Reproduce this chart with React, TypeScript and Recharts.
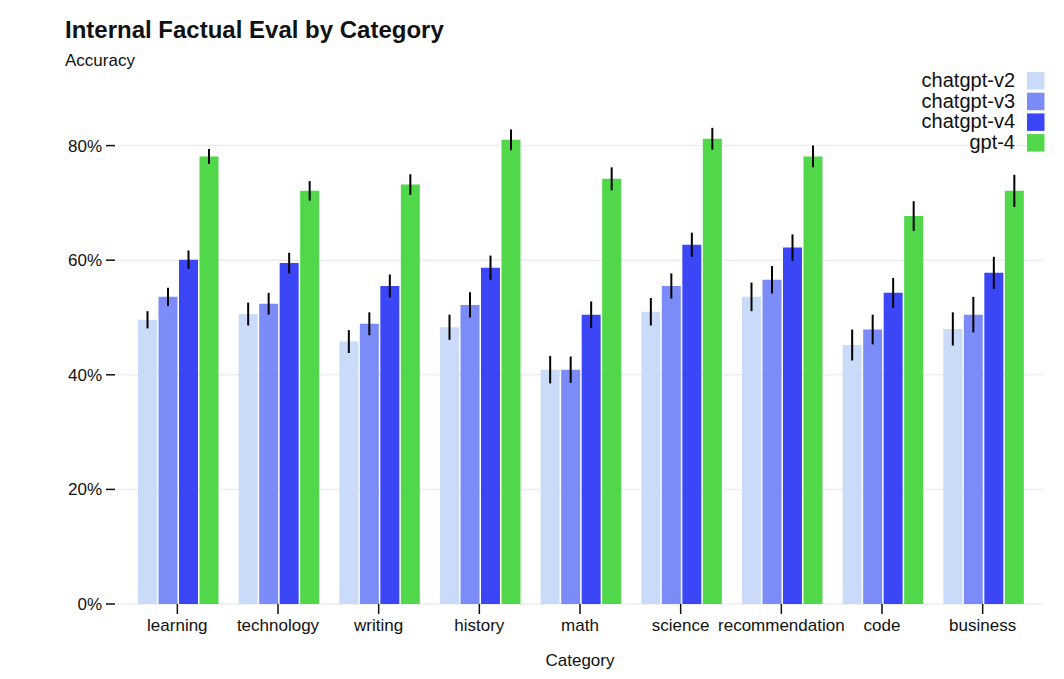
import React from 'react';
import { ComposedChart, Bar, XAxis, YAxis, CartesianGrid, ErrorBar } from 'recharts';

const categories = ['learning', 'technology', 'writing', 'history', 'math', 'science', 'recommendation', 'code', 'business'];
const seriesNames = ['chatgpt-v2', 'chatgpt-v3', 'chatgpt-v4', 'gpt-4'];
const seriesColors = ['#c9dbf9', '#7b8cf8', '#3b46f7', '#51d84a'];

const v2 = [49.6, 50.6, 45.8, 48.3, 40.9, 51.0, 53.6, 45.2, 48.0];
const v2Err = [1.5, 2.0, 2.0, 2.2, 2.4, 2.4, 2.5, 2.7, 2.9];
const v3 = [53.6, 52.4, 48.9, 52.2, 40.9, 55.5, 56.6, 47.9, 50.5];
const v3Err = [1.6, 1.9, 2.0, 2.2, 2.3, 2.2, 2.4, 2.6, 3.1];
const v4 = [60.1, 59.5, 55.5, 58.7, 50.5, 62.7, 62.2, 54.3, 57.8];
const v4Err = [1.6, 1.8, 2.0, 2.1, 2.3, 2.1, 2.3, 2.6, 2.8];
const gpt4 = [78.1, 72.1, 73.2, 81.0, 74.2, 81.2, 78.1, 67.7, 72.1];
const gpt4Err = [1.3, 1.7, 1.8, 1.8, 2.0, 1.9, 1.9, 2.6, 2.8];

const yTicks = [0, 20, 40, 60, 80];

const title = 'Internal Factual Eval by Category';
const yLabel = 'Accuracy';
const xLabel = 'Category';

const data = categories.map((c, i) => ({
  category: c,
  v2: v2[i], v2e: v2Err[i],
  v3: v3[i], v3e: v3Err[i],
  v4: v4[i], v4e: v4Err[i],
  g4: gpt4[i], g4e: gpt4Err[i],
}));

const keys = [['v2', 'v2e'], ['v3', 'v3e'], ['v4', 'v4e'], ['g4', 'g4e']];

const FONT = '"Liberation Sans", Arial, Helvetica, sans-serif';
const W = 1056;
const H = 671;

const YTick = (props: any) => {
  const { x, y, payload } = props;
  return (
    <g>
      <text x={x - 15} y={y} dy="0.35em" textAnchor="end" fontSize={17} fontFamily={FONT} fill="#111">
        {`${payload.value}%`}
      </text>
      <line x1={x - 11} x2={x - 2} y1={y} y2={y} stroke="#111" strokeWidth={1.5} />
    </g>
  );
};

const XTick = (props: any) => {
  const { x, y, payload } = props;
  return (
    <g>
      <line x1={x} x2={x} y1={y} y2={y + 10} stroke="#111" strokeWidth={1.5} />
      <text x={x} y={y + 27} textAnchor="middle" fontSize={17} fontFamily={FONT} fill="#111">
        {payload.value}
      </text>
    </g>
  );
};

export default function App() {
  return (
    <div style={{ position: 'relative', width: W, height: H }}>
      <ComposedChart
        width={W}
        height={H}
        data={data}
        margin={{ top: 23, right: 21, left: 0, bottom: 0 }}
        barCategoryGap={11}
        barGap={1.5}
      >
        <CartesianGrid
          vertical={false}
          stroke="#ededed"
          strokeWidth={1.5}
          horizontalValues={yTicks}
        />
        <XAxis
          dataKey="category"
          height={75}
          padding={{ left: 10, right: 10 }}
          axisLine={false}
          tickLine={false}
          tickSize={0}
          tickMargin={0}
          tick={<XTick />}
          interval={0}
        />
        <YAxis
          width={109}
          domain={[0, 100]}
          ticks={yTicks}
          axisLine={false}
          tickLine={false}
          tickSize={0}
          tickMargin={0}
          tick={<YTick />}
          allowDataOverflow
        />
        {keys.map(([k, e], i) => (
          <Bar key={k} dataKey={k} name={seriesNames[i]} fill={seriesColors[i]} isAnimationActive={false}>
            <ErrorBar dataKey={e} width={0} stroke="#000" strokeWidth={2} direction="y" />
          </Bar>
        ))}
      </ComposedChart>
      <svg
        width={W}
        height={H}
        style={{ position: 'absolute', left: 0, top: 0, pointerEvents: 'none' }}
      >
        <text x={57} y={29.5} fontSize={24} fontWeight="bold" fontFamily={FONT} fill="#111">
          {title}
        </text>
        <text x={57} y={57.5} fontSize={17} fontFamily={FONT} fill="#111">
          {yLabel}
        </text>
        <text x={572} y={658} textAnchor="middle" fontSize={17} fontFamily={FONT} fill="#111">
          {xLabel}
        </text>
        {seriesNames.map((n, i) => (
          <g key={n}>
            <text x={1007} y={79 + i * 20.7} textAnchor="end" fontSize={20} fontFamily={FONT} fill="#111">
              {n}
            </text>
            <rect x={1019} y={64 + i * 20.7} width={17.5} height={17.5} fill={seriesColors[i]} />
          </g>
        ))}
      </svg>
    </div>
  );
}
